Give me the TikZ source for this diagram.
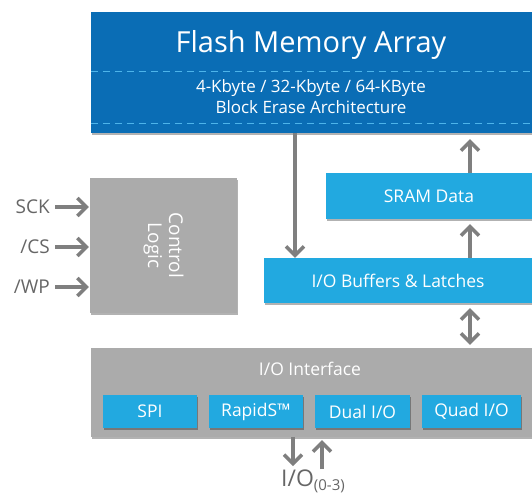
\documentclass[tikz,border=0pt]{standalone}
\usepackage{fontspec}
\setmainfont{Open Sans}
\usepackage{tikz}
\usetikzlibrary{arrows.meta, positioning, shadows}

\definecolor{flashblue}{HTML}{0A6DB5}
\definecolor{lightblue}{HTML}{22A9E0}
\definecolor{dashblue}{HTML}{4DB4EA}
\definecolor{boxgray}{HTML}{ABABAB}
\definecolor{arrowgray}{HTML}{7F7F7F}
\definecolor{labelgray}{HTML}{666666}

\begin{document}
\begin{tikzpicture}[x=1pt, y=-1pt,
    blk/.style={rectangle, inner sep=0pt, text=white,
        drop shadow={shadow xshift=0.5pt, shadow yshift=-2pt, opacity=0.3, fill=black}},
    bluebox/.style={blk, fill=lightblue, font=\fontsize{17.5}{20}\selectfont},
    graybox/.style={blk, fill=boxgray},
    arr/.style={arrowgray, line width=3.5pt, -{Straight Barb[length=9pt, width=18pt]}},
    dbl/.style={arrowgray, line width=3.5pt, {Straight Barb[length=9pt, width=18pt]}-{Straight Barb[length=9pt, width=18pt]}},
    pin/.style={text=labelgray, font=\fontsize{19}{22}\selectfont, anchor=east, inner sep=0pt}]
    \useasboundingbox (0,0) rectangle (532,496);

    % Flash array
    \node (flash) at (311.5,72.5) [blk, fill=flashblue, minimum width=441pt, minimum height=121pt] {};
    \draw[dashblue, line width=1pt, dash pattern=on 7pt off 5pt] (flash.west |- 0,71) -- (flash.east |- 0,71);
    \draw[dashblue, line width=1pt, dash pattern=on 7pt off 5pt] (flash.west |- 0,123) -- (flash.east |- 0,123);
    \node (title) at (311,45) [text=white, font=\fontsize{29}{34}\selectfont] {Flash Memory Array};
    \node (erase) at (311,97) [text=white, align=center, font=\fontsize{17}{21}\selectfont]
        {4-Kbyte / 32-Kbyte / 64-KByte\\Block Erase Architecture};

    % Data path
    \node (sram) at (429,196) [bluebox, minimum width=206pt, minimum height=46pt] {SRAM Data};
    \node (buf) at (398,280.5) [bluebox, minimum width=268pt, minimum height=45pt] {I/O Buffers \& Latches};

    % Control logic
    \node (ctrl) at (163.5,245.5) [graybox, minimum width=147pt, minimum height=135pt] {};
    \node (ctrltext) at (ctrl.center) [rotate=-90, text=white, align=center, font=\fontsize{19}{21}\selectfont] {Control\\Logic};
    \node (sck) at (50,207) [pin] {SCK};
    \node (cs) at (50,247) [pin] {/CS};
    \node (wp) at (50,287) [pin] {/WP};
    \foreach \p in {sck, cs, wp}
        \draw[arr, shorten <=5pt, shorten >=1pt] (\p.east) -- (\p.east -| ctrl.west);

    % I/O interface
    \node (iface) at (311.5,392.5) [graybox, minimum width=441pt, minimum height=89pt] {};
    \node (ifacetext) at (310,369) [text=white, font=\fontsize{17.5}{20}\selectfont] {I/O Interface};
    \node (spi) at (150,411.5) [bluebox, minimum width=94pt, minimum height=33pt] {SPI};
    \node (rapids) at (256,411.5) [bluebox, minimum width=94pt, minimum height=33pt] {RapidS™};
    \node (dual) at (362.5,411.5) [bluebox, minimum width=95pt, minimum height=33pt] {Dual I/O};
    \node (quad) at (471.5,411.5) [bluebox, minimum width=99pt, minimum height=33pt] {Quad I/O};

    % Arrows
    \coordinate (downx) at (295,0);
    \coordinate (upx) at (470,0);
    \draw[arr] (flash.south -| downx) -- (buf.north -| downx);
    \draw[arr, shorten >=6pt] (sram.north -| upx) -- (flash.south -| upx);
    \draw[arr, shorten >=5pt] (buf.north -| upx) -- (sram.south -| upx);
    \draw[dbl, shorten <=5pt, shorten >=3pt] (buf.south -| upx) -- (iface.north -| upx);

    % External pins
    \node (io) at (313,481) [text=labelgray, font=\fontsize{23}{26}\selectfont, inner sep=0pt]
        {I/O\raisebox{-0.3ex}{\fontsize{15}{17}\selectfont(0-3)}};
    \coordinate (out) at (293,466);
    \coordinate (in) at (322,469);
    \draw[arr] (iface.south -| out) -- (out);
    \draw[arr, shorten >=3pt] (in) -- (iface.south -| in);
\end{tikzpicture}
\end{document}
